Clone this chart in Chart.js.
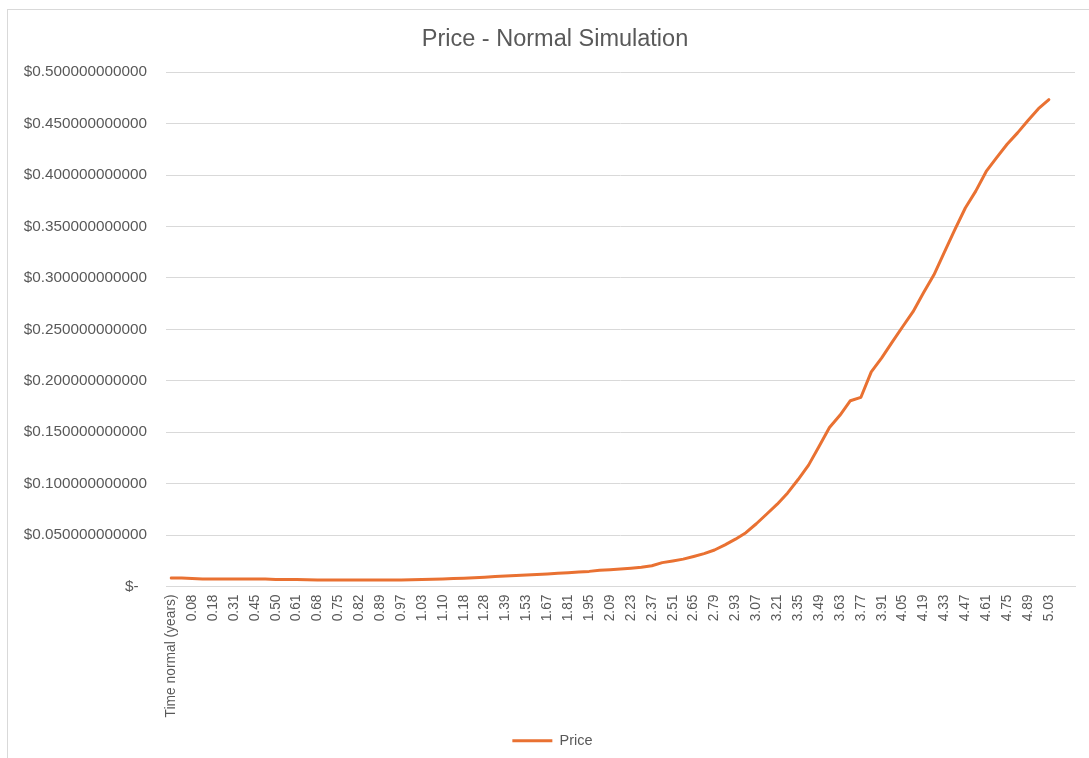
<!DOCTYPE html>
<html>
<head>
<meta charset="utf-8">
<title>Price - Normal Simulation</title>
<script src="https://cdn.jsdelivr.net/npm/chart.js@4.4.0/dist/chart.umd.min.js"></script>
<style>
  html, body { margin: 0; padding: 0; background: #fff; }
  #frame { position: absolute; left: 7px; top: 9px; width: 1120px; height: 800px; border: 1px solid #d9d9d9; box-sizing: border-box; }
  #wrap { position: absolute; left: 0; top: 0; width: 1089px; height: 758px; }
</style>
</head>
<body>
<div id="frame"></div>
<div id="wrap"><canvas id="chart" width="1089" height="758"></canvas></div>
<script>
// category labels (first cell is the column header, last two rows are blank)
const times = [
  "Time normal (years)", "0.04", "0.08", "0.13", "0.18", "0.24", "0.31", "0.38", "0.45", "0.47",
  "0.50", "0.55", "0.61", "0.64", "0.68", "0.71", "0.75", "0.78", "0.82", "0.85",
  "0.89", "0.93", "0.97", "1.00", "1.03", "1.07", "1.10", "1.14", "1.18", "1.23",
  "1.28", "1.33", "1.39", "1.46", "1.53", "1.60", "1.67", "1.74", "1.81", "1.88",
  "1.95", "2.02", "2.09", "2.16", "2.23", "2.30", "2.37", "2.44", "2.51", "2.58",
  "2.65", "2.72", "2.79", "2.86", "2.93", "3.00", "3.07", "3.14", "3.21", "3.28",
  "3.35", "3.42", "3.49", "3.56", "3.63", "3.70", "3.77", "3.84", "3.91", "3.98",
  "4.05", "4.12", "4.19", "4.26", "4.33", "4.40", "4.47", "4.54", "4.61", "4.68",
  "4.75", "4.82", "4.89", "4.96", "5.03", "", ""
];

const price = [
  0.0083, 0.0082, 0.0078, 0.0074, 0.0074, 0.0074, 0.0073, 0.0073, 0.0072, 0.0072,
  0.0069, 0.0067, 0.0067, 0.0066, 0.0063, 0.0064, 0.0064, 0.0064, 0.0064, 0.0064,
  0.0064, 0.0064, 0.0064, 0.0065, 0.0068, 0.0070, 0.0073, 0.0077, 0.0081, 0.0085,
  0.0091, 0.0097, 0.0102, 0.0107, 0.0112, 0.0117, 0.0122, 0.0128, 0.0134, 0.0140,
  0.0147, 0.0157, 0.0163, 0.0170, 0.0178, 0.0188, 0.0202, 0.0232, 0.0248, 0.0266,
  0.0292, 0.0320, 0.0355, 0.0405, 0.0460, 0.0523, 0.0610, 0.0705, 0.0800, 0.0910,
  0.1040, 0.1180, 0.1360, 0.1545, 0.1664, 0.1806, 0.1838, 0.2087, 0.2223, 0.2375,
  0.2525, 0.2672, 0.2855, 0.3030, 0.3250, 0.3470, 0.3680, 0.3844, 0.4035, 0.4170,
  0.4300, 0.4410, 0.4530, 0.4645, 0.4733, null, null
];

const yTicks = { min: 0, max: 0.5, step: 0.05 };

const textColor = "#595959";
const gridColor = "#d9d9d9";
const lineColor = "#e97132";

// the original frame is wider than the screenshot, so title and legend sit right of canvas centre
const shiftBlocks = {
  id: "shiftBlocks",
  afterLayout(chart) {
    chart.titleBlock.left += 35;
    chart.legend.left += 30;
  }
};

new Chart(document.getElementById("chart"), {
  type: "line",
  data: {
    labels: times,
    datasets: [{
      label: "Price",
      data: price,
      borderColor: lineColor,
      backgroundColor: lineColor,
      borderWidth: 3,
      pointRadius: 0,
      tension: 0,
      borderCapStyle: "round",
      borderJoinStyle: "round"
    }]
  },
  options: {
    responsive: false,
    animation: false,
    layout: { padding: { left: 0, right: 14, top: 0, bottom: 0 } },
    plugins: {
      title: {
        display: true,
        text: "Price - Normal Simulation",
        color: textColor,
        font: { family: "Liberation Sans", size: 23.5, weight: "normal" },
        padding: { top: 25, bottom: 19 }
      },
      legend: {
        position: "bottom",
        labels: {
          color: textColor,
          font: { family: "Liberation Sans", size: 14.5 },
          usePointStyle: true,
          pointStyle: "line",
          pointStyleWidth: 40,
          padding: 9
        }
      },
      tooltip: { enabled: false }
    },
    scales: {
      x: {
        type: "category",
        offset: true,
        grid: { display: false, drawTicks: false },
        border: { display: true, color: gridColor, width: 1 },
        ticks: {
          autoSkip: false,
          maxRotation: 90,
          minRotation: 90,
          padding: 8,
          color: textColor,
          font: { family: "Liberation Sans", size: 13.8 },
          callback: function (v, i) { return i % 2 === 0 ? this.getLabelForValue(v) : ""; }
        },
        afterFit: s => { s.height = 138; s.paddingLeft = 0; s.paddingRight = 0; }
      },
      y: {
        min: yTicks.min,
        max: yTicks.max,
        grid: { color: gridColor, lineWidth: 1, drawTicks: false },
        border: { display: false },
        ticks: {
          stepSize: yTicks.step,
          padding: 19,
          color: textColor,
          font: { family: "Liberation Sans", size: 15.3 },
          callback: v => Math.abs(v) < 1e-9 ? "$-\u2007" : "$" + v.toFixed(12)
        },
        afterFit: s => { s.width = 166; }
      }
    }
  },
  plugins: [shiftBlocks]
});
</script>
</body>
</html>
